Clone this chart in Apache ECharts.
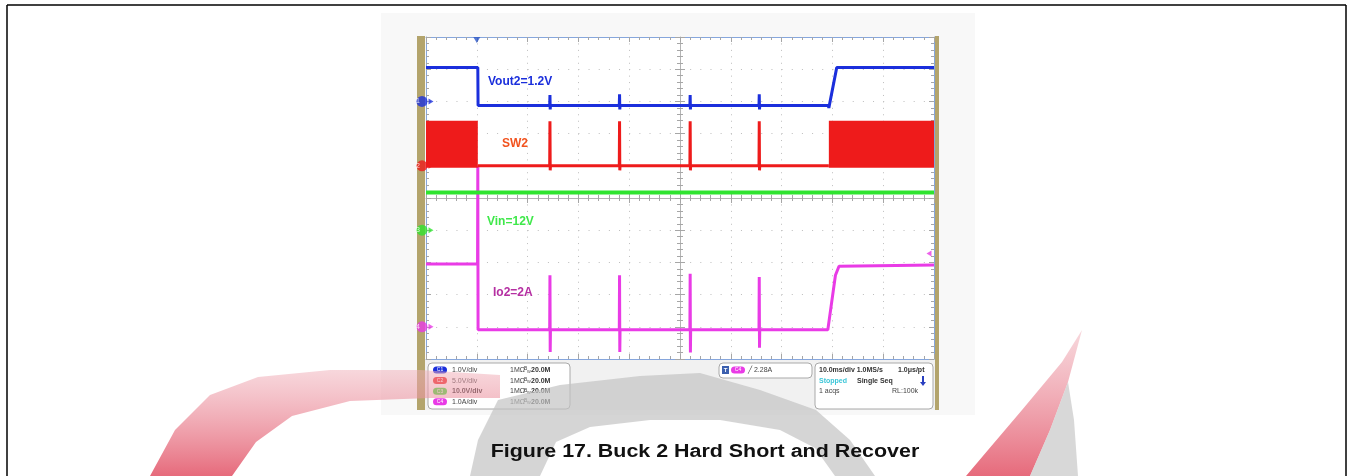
<!DOCTYPE html>
<html>
<head>
<meta charset="utf-8">
<title>Figure 17. Buck 2 Hard Short and Recover</title>
<script src="https://cdn.jsdelivr.net/npm/echarts@6/dist/echarts.min.js"></script>
<style>
  html, body { margin: 0; padding: 0; background: #fff; }
  #chart { width: 1349px; height: 476px; }
</style>
</head>
<body>
<div id="chart"></div>
<script>
// time in ms (10 ms/div, trigger at 0), values in channel units
const timeRange = [-10, 90];
const divRange = [-5, 5];

const channelNames = ['Vout2=1.2V', 'SW2', 'Vin=12V', 'Io2=2A'];
const channelScales = [1, 5, 10, 1];     // units per division
const channelOffsets = [3, 1, -1, -4];   // ground marker, divisions from centre
const scaleLabels = ['1.0V/div', '5.0V/div', '10.0V/div', '1.0A/div'];
const triggerLevel = 2.28; // A, on C4

// Vout2 (V)
const vout2 = [[-10, 1.05], [0.2, 1.05], [0.25, -0.13],
  [14.35, -0.13], [14.4, 0.2], [14.45, -0.25], [14.5, -0.13],
  [28.05, -0.13], [28.1, 0.22], [28.15, -0.25], [28.2, -0.13],
  [41.95, -0.13], [42.0, 0.2], [42.05, -0.25], [42.1, -0.13],
  [55.55, -0.13], [55.6, 0.22], [55.65, -0.25], [55.7, -0.13],
  [69.2, -0.13], [69.3, -0.2], [70.85, 1.05], [90, 1.05]];

// SW2 (V): baseline with hiccup pulses, switching envelope shown as bands
const sw2 = [[0.2, 0], [14.35, 0], [14.4, 6.9], [14.45, -0.7], [14.5, 0],
  [28.05, 0], [28.1, 6.9], [28.15, -0.7], [28.2, 0],
  [41.95, 0], [42.0, 6.9], [42.05, -0.7], [42.1, 0],
  [55.55, 0], [55.6, 6.9], [55.65, -0.7], [55.7, 0], [69.3, 0]];
// [tStart, tEnd, vMin, vMax]
const sw2Bands = [[-10, 0.2, -0.3, 7.0], [69.3, 90, -0.3, 7.0]];

// Vin (V)
const vin = [[-10, 11.7], [90, 11.7]];

// Io2 (A)
const io2 = [[-10, 1.95], [0.15, 1.95], [0.2, 5.0], [0.25, -0.09],
  [14.35, -0.09], [14.4, 1.6], [14.45, -0.78], [14.5, -0.09],
  [28.05, -0.09], [28.1, 1.6], [28.15, -0.78], [28.2, -0.09],
  [41.95, -0.09], [42.0, 1.65], [42.05, -0.8], [42.1, -0.09],
  [55.55, -0.09], [55.6, 1.55], [55.65, -0.65], [55.7, -0.09],
  [69.1, -0.09], [70.6, 1.6], [71.3, 1.88], [90, 1.92]];

const colors = ['#1b2fdc', '#ee1b1b', '#2fe42f', '#e93be6'];
const labelColors = ['#1b2fdc', '#f2531f', '#3fe84a', '#b52fa2'];

const toDiv = (pts, ch) => pts.map(p => [p[0], p[1] / channelScales[ch] + channelOffsets[ch]]);

const chart = echarts.init(document.getElementById('chart'));

const FONT = 'Liberation Sans';
const tickGray = '#a6a6a6';
const frameBlue = '#86a6dc';

function xAx(extra) {
  return Object.assign({
    type: 'value', min: timeRange[0], max: timeRange[1], interval: 10,
    axisLabel: { show: false },
    axisLine: { show: true, onZero: false, lineStyle: { color: frameBlue, width: 1 } },
    axisTick: { show: true, inside: true, length: 5, lineStyle: { color: tickGray } },
    minorTick: { show: true, splitNumber: 5, length: 3, lineStyle: { color: tickGray } },
    splitLine: { show: false }
  }, extra);
}
function yAx(extra) {
  return Object.assign({
    type: 'value', min: divRange[0], max: divRange[1], interval: 1,
    axisLabel: { show: false },
    axisLine: { show: true, onZero: false, lineStyle: { color: frameBlue, width: 1 } },
    axisTick: { show: true, inside: true, length: 5, lineStyle: { color: tickGray } },
    minorTick: { show: true, splitNumber: 5, length: 3, lineStyle: { color: tickGray } },
    splitLine: { show: false }
  }, extra);
}

const centreLine = { show: true, onZero: false, lineStyle: { color: '#b4b4b4', width: 1 } };
const noLine = { show: false, onZero: false };
const outTick = { show: true, inside: false, length: 5, lineStyle: { color: tickGray } };

const option = {
  animation: false,
  backgroundColor: '#fff',
  grid: { left: 426, top: 37, width: 508, height: 322, show: true, backgroundColor: '#fff', borderWidth: 0 },
  xAxis: [
    xAx({ position: 'bottom', splitLine: { show: true, lineStyle: { color: '#bdbdbd', type: [1, 5.44] } } }),
    xAx({ position: 'top' }),
    xAx({ position: 'bottom', offset: -161, axisLine: centreLine }),
    xAx({ position: 'bottom', offset: -161, axisLine: noLine, axisTick: outTick })
  ],
  yAxis: [
    yAx({ position: 'left', splitLine: { show: true, lineStyle: { color: '#bdbdbd', type: [1, 9.16] } } }),
    yAx({ position: 'right' }),
    yAx({ position: 'left', offset: -254, axisLine: centreLine }),
    yAx({ position: 'left', offset: -254, axisLine: noLine, axisTick: outTick })
  ],
  series: [
    {
      name: channelNames[3], type: 'line', data: toDiv(io2, 3), showSymbol: false,
      lineStyle: { color: colors[3], width: 3 }, z: 3
    },
    {
      name: channelNames[2], type: 'line', data: toDiv(vin, 2), showSymbol: false,
      lineStyle: { color: colors[2], width: 4 }, z: 4
    },
    {
      name: channelNames[1] + ' band', type: 'custom',
      data: sw2Bands.map(b => [b[0], b[1], b[2] / channelScales[1] + channelOffsets[1], b[3] / channelScales[1] + channelOffsets[1]]),
      encode: { x: [0, 1], y: [2, 3] },
      renderItem: (params, api) => {
        const a = api.coord([api.value(0), api.value(3)]);
        const b = api.coord([api.value(1), api.value(2)]);
        return { type: 'rect', shape: { x: a[0], y: a[1], width: b[0] - a[0], height: b[1] - a[1] }, style: { fill: colors[1] } };
      },
      z: 5
    },
    {
      name: channelNames[1], type: 'line', data: toDiv(sw2, 1), showSymbol: false,
      lineStyle: { color: colors[1], width: 3 }, z: 5
    },
    {
      name: channelNames[0], type: 'line', data: toDiv(vout2, 0), showSymbol: false,
      lineStyle: { color: colors[0], width: 3 }, z: 6
    },
    // channel ground markers
    {
      type: 'scatter', clip: false, z: 8,
      data: channelOffsets.map((o, i) => ({
        value: [timeRange[0], o],
        itemStyle: { color: colors[i] },
        label: { show: true, position: 'inside', formatter: String(i + 1), color: '#fff', fontSize: 7, fontFamily: FONT, offset: [-4, 0] }
      })),
      symbol: 'circle', symbolSize: 11, symbolOffset: [-4, 0]
    },
    {
      type: 'scatter', clip: false, z: 8,
      data: channelOffsets.map((o, i) => ({ value: [timeRange[0], o], itemStyle: { color: colors[i] } })),
      symbol: 'triangle', symbolSize: [6, 5], symbolRotate: -90, symbolOffset: [5, 0]
    },
    // trigger position and level markers
    {
      type: 'scatter', clip: false, z: 8,
      data: [[0, divRange[1]]],
      symbol: 'triangle', symbolSize: [7, 6], symbolRotate: 180, symbolOffset: [0, 3],
      itemStyle: { color: '#2a56c8' }
    },
    {
      type: 'scatter', clip: false, z: 8,
      data: [[timeRange[1], triggerLevel / channelScales[3] + channelOffsets[3]]],
      symbol: 'triangle', symbolSize: [6, 5], symbolRotate: 90, symbolOffset: [-5, 0],
      itemStyle: { color: colors[3] }
    }
  ],
  graphic: []
};

const g = option.graphic;
// page frame and image backdrop
g.push({ type: 'rect', shape: { x: 381, y: 13, width: 594, height: 402 }, style: { fill: '#f8f8f8' }, z: -20 });
g.push({ type: 'line', shape: { x1: 7, y1: 5, x2: 1346, y2: 5 }, style: { stroke: '#000', lineWidth: 1.5 }, z: 1 });
g.push({ type: 'line', shape: { x1: 7, y1: 5, x2: 7, y2: 476 }, style: { stroke: '#000', lineWidth: 1.5 }, z: 1 });
g.push({ type: 'line', shape: { x1: 1346, y1: 5, x2: 1346, y2: 476 }, style: { stroke: '#000', lineWidth: 1.5 }, z: 1 });
// scope bezel
g.push({ type: 'rect', shape: { x: 417, y: 36, width: 8, height: 374 }, style: { fill: '#b3a46c' }, z: -5 });
g.push({ type: 'rect', shape: { x: 935, y: 36, width: 4, height: 374 }, style: { fill: '#b3a46c' }, z: -5 });
g.push({ type: 'rect', shape: { x: 425, y: 360, width: 510, height: 50 }, style: { fill: '#f1f1f1' }, z: -5 });

// info panel
const info = [];
info.push({ type: 'rect', shape: { x: 428, y: 363, width: 142, height: 46, r: 4 }, style: { fill: '#fff', stroke: '#a9a9a9', lineWidth: 1 } });
scaleLabels.forEach((s, i) => {
  const y = 370 + i * 10.6;
  info.push({ type: 'rect', shape: { x: 433, y: y - 3.5, width: 14, height: 7, r: 3.5 }, style: { fill: colors[i] } });
  info.push({ type: 'text', x: 440, y: y, style: { text: 'C' + (i + 1), fill: '#fff', font: '5px ' + FONT, align: 'center', verticalAlign: 'middle' } });
  info.push({ type: 'text', x: 452, y: y, style: { text: s, fill: i === 2 ? '#222' : '#444', font: (i === 2 ? 'bold ' : '') + '7px ' + FONT, verticalAlign: 'middle' } });
  info.push({ type: 'text', x: 510, y: y, style: { text: '1MΩ', fill: '#444', font: '7px ' + FONT, verticalAlign: 'middle' } });
  info.push({ type: 'text', x: 524, y: y - 1, style: { text: 'B', fill: '#444', font: '5px ' + FONT, verticalAlign: 'middle' } });
  info.push({ type: 'text', x: 527, y: y + 1.5, style: { text: 'W', fill: '#444', font: '4px ' + FONT, verticalAlign: 'middle' } });
  info.push({ type: 'text', x: 531, y: y, style: { text: '20.0M', fill: '#333', font: 'bold 7px ' + FONT, verticalAlign: 'middle' } });
});
info.push({ type: 'rect', shape: { x: 719, y: 363, width: 93, height: 15, r: 4 }, style: { fill: '#fff', stroke: '#a9a9a9', lineWidth: 1 } });
info.push({ type: 'rect', shape: { x: 722, y: 366, width: 7, height: 8 }, style: { fill: '#3b5fae' } });
info.push({ type: 'text', x: 725.5, y: 370, style: { text: 'T', fill: '#fff', font: 'bold 6px ' + FONT, align: 'center', verticalAlign: 'middle' } });
info.push({ type: 'rect', shape: { x: 731, y: 366.5, width: 14, height: 7, r: 3.5 }, style: { fill: colors[3] } });
info.push({ type: 'text', x: 738, y: 370, style: { text: 'C4', fill: '#fff', font: '5px ' + FONT, align: 'center', verticalAlign: 'middle' } });
info.push({ type: 'text', x: 748, y: 370, style: { text: '╱ ' + triggerLevel.toFixed(2) + 'A', fill: '#444', font: '7px ' + FONT, verticalAlign: 'middle' } });
info.push({ type: 'rect', shape: { x: 815, y: 363, width: 118, height: 46, r: 4 }, style: { fill: '#fff', stroke: '#a9a9a9', lineWidth: 1 } });
info.push({ type: 'text', x: 819, y: 370, style: { text: '10.0ms/div 1.0MS/s', fill: '#333', font: 'bold 7px ' + FONT, verticalAlign: 'middle' } });
info.push({ type: 'text', x: 898, y: 370, style: { text: '1.0μs/pt', fill: '#333', font: 'bold 7px ' + FONT, verticalAlign: 'middle' } });
info.push({ type: 'text', x: 819, y: 381, style: { text: 'Stopped', fill: '#3cc6d8', font: 'bold 7px ' + FONT, verticalAlign: 'middle' } });
info.push({ type: 'text', x: 857, y: 381, style: { text: 'Single Seq', fill: '#333', font: 'bold 7px ' + FONT, verticalAlign: 'middle' } });
info.push({ type: 'rect', shape: { x: 922, y: 376, width: 2, height: 7 }, style: { fill: '#2a3fc0' } });
info.push({ type: 'polygon', shape: { points: [[920, 382], [926, 382], [923, 386]] }, style: { fill: '#2a3fc0' } });
info.push({ type: 'text', x: 819, y: 391, style: { text: '1 acqs', fill: '#444', font: '7px ' + FONT, verticalAlign: 'middle' } });
info.push({ type: 'text', x: 892, y: 391, style: { text: 'RL:100k', fill: '#444', font: '7px ' + FONT, verticalAlign: 'middle' } });
g.push({ type: 'group', z: 10, children: info });

// trace labels
const labelPos = [[488, 82], [502, 144], [487, 222], [493, 293]];
channelNames.forEach((n, i) => {
  g.push({ type: 'text', x: labelPos[i][0], y: labelPos[i][1], z: 20,
    style: { text: n, fill: labelColors[i], font: 'bold 12px ' + FONT, verticalAlign: 'middle' } });
});

// watermark
const wmRed = {
  type: 'linear', x: 0, y: 1, x2: 0, y2: 0,
  colorStops: [{ offset: 0, color: 'rgba(226,80,100,0.85)' }, { offset: 1, color: 'rgba(240,175,185,0.5)' }]
};
g.push({ type: 'polygon', z: 30, shape: { points: [[150, 476], [175, 430], [210, 395], [258, 377], [330, 370], [420, 370], [500, 375], [500, 398], [430, 398], [350, 401], [292, 416], [256, 442], [232, 476]] }, style: { fill: wmRed } });
g.push({ type: 'polygon', z: 30, shape: { points: [[470, 476], [478, 440], [498, 400], [560, 385], [640, 376], [700, 373], [760, 390], [816, 410], [850, 440], [875, 476], [835, 476], [815, 448], [780, 430], [720, 420], [650, 420], [590, 427], [556, 442], [540, 476]] }, style: { fill: 'rgba(195,195,195,0.7)' } });
g.push({ type: 'polygon', z: 30, shape: { points: [[1082, 330], [1062, 362], [1022, 410], [988, 450], [966, 476], [1030, 476], [1050, 430], [1068, 382]] }, style: { fill: wmRed } });
g.push({ type: 'polygon', z: 30, shape: { points: [[1068, 382], [1050, 430], [1030, 476], [1078, 476], [1074, 420]] }, style: { fill: 'rgba(200,200,200,0.7)' } });

// figure caption
g.push({ type: 'text', x: 705, y: 452, z: 40, scaleX: 1.19, originX: 0, originY: 0,
  style: { text: 'Figure 17. Buck 2 Hard Short and Recover', fill: '#111', font: 'bold 18px ' + FONT, align: 'center', verticalAlign: 'middle' } });

chart.setOption(option);
</script>
</body>
</html>
